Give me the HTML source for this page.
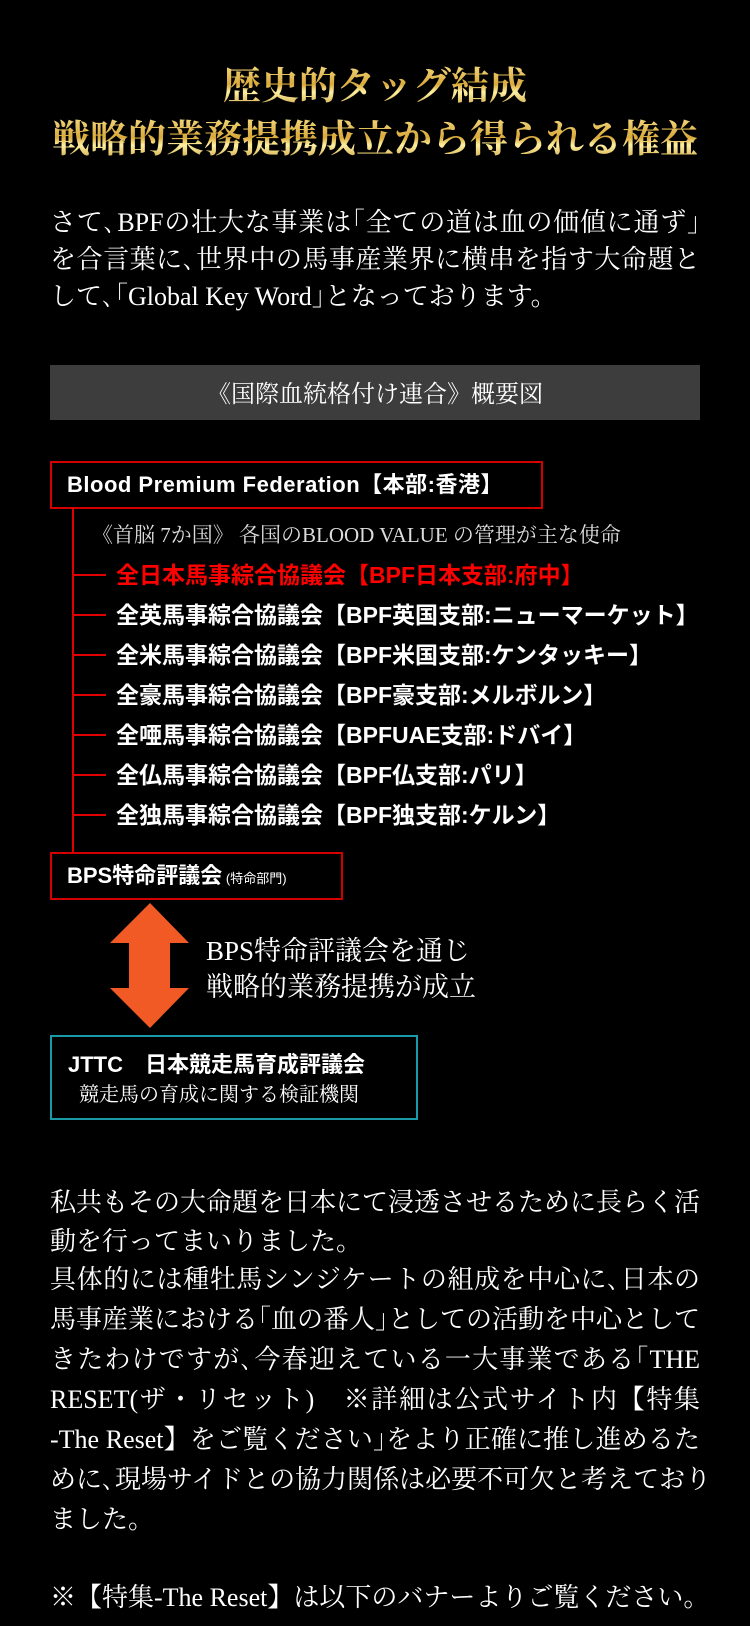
<!DOCTYPE html>
<html><head><meta charset="utf-8"><style>
html,body{margin:0;padding:0;background:#000;}
#p{position:relative;width:750px;height:1626px;overflow:hidden;background:#000;color:#fff;}
.l{position:absolute;white-space:nowrap;height:40px;line-height:40px;}
.s{font-family:"Liberation Serif","Noto Serif CJK JP","Noto Serif CJK SC",serif;}
.g{font-family:"Liberation Sans","Noto Sans CJK JP",sans-serif;font-weight:bold;}
.j{left:50px;width:650px;text-align:justify;text-align-last:justify;}
.t{font-size:38px;font-weight:bold;left:0;width:750px;text-align:center;height:52px;line-height:52px;
 background:linear-gradient(180deg,#f7e08a 0%,#d9a93a 45%,#fff0a0 60%,#b8861e 100%);-webkit-background-clip:text;background-clip:text;color:transparent;}
.p{font-size:26px;}
.r{font-size:23px;left:116px;}
.h{position:absolute;left:73px;width:33px;height:2px;background:#e00000;}
</style></head><body><div id="p">
<div class="l s t" style="top:61px">歴史的タッグ結成</div>
<div class="l s t" style="top:114px">戦略的業務提携成立から得られる権益</div>

<div class="l s p j" style="top:203px">さて､BPFの壮大な事業は｢全ての道は血の価値に通ず｣</div>
<div class="l s p j" style="top:240px">を合言葉に､世界中の馬事産業界に横串を指す大命題と</div>
<div class="l s p" style="top:277px;left:50px">して､｢Global Key Word｣となっております。</div>

<div style="position:absolute;left:50px;top:365px;width:650px;height:55px;background:#3d3d3d;"></div>
<div class="l s" style="top:375px;left:0;width:750px;text-align:center;font-size:24px;">《国際血統格付け連合》概要図</div>

<div style="position:absolute;left:50px;top:461px;width:489px;height:44px;border:2px solid #d40000;"></div>
<div class="l g" style="top:465px;left:67px;font-size:22px;letter-spacing:0.5px;">Blood Premium Federation【本部:香港】</div>
<div style="position:absolute;left:72px;top:507px;width:2px;height:345px;background:#e00000;"></div>
<div class="l s" style="top:515px;left:92px;font-size:21px;color:#ddd;">《首脳 7か国》 各国のBLOOD VALUE の管理が主な使命</div>

<div class="h" style="top:574px"></div><div class="l g r" style="top:555px;color:#f00;">全日本馬事綜合協議会【BPF日本支部:府中】</div>
<div class="h" style="top:614px"></div><div class="l g r" style="top:595px">全英馬事綜合協議会【BPF英国支部:ニューマーケット】</div>
<div class="h" style="top:654px"></div><div class="l g r" style="top:635px">全米馬事綜合協議会【BPF米国支部:ケンタッキー】</div>
<div class="h" style="top:694px"></div><div class="l g r" style="top:675px">全豪馬事綜合協議会【BPF豪支部:メルボルン】</div>
<div class="h" style="top:734px"></div><div class="l g r" style="top:715px">全唖馬事綜合協議会【BPFUAE支部:ドバイ】</div>
<div class="h" style="top:774px"></div><div class="l g r" style="top:755px">全仏馬事綜合協議会【BPF仏支部:パリ】</div>
<div class="h" style="top:814px"></div><div class="l g r" style="top:795px">全独馬事綜合協議会【BPF独支部:ケルン】</div>

<div style="position:absolute;left:50px;top:852px;width:289px;height:44px;border:2px solid #d40000;"></div>
<div class="l g" style="top:856px;left:67px;font-size:22px;">BPS特命評議会<span style="font-size:13px;font-weight:normal;"> (特命部門)</span></div>

<svg style="position:absolute;left:0;top:0" width="750" height="1626">
<polygon points="150,903 189,943 170,943 170,988 189,988 150,1028 110,988 129,988 129,943 110,943" fill="#f15a24"/>
</svg>
<div class="l s" style="top:931px;left:206px;font-size:27px;">BPS特命評議会を通じ</div>
<div class="l s" style="top:967px;left:206px;font-size:27px;">戦略的業務提携が成立</div>

<div style="position:absolute;left:50px;top:1035px;width:364px;height:81px;border:2px solid #1a9aa8;"></div>
<div class="l g" style="top:1045px;left:68px;font-size:22px;">JTTC　日本競走馬育成評議会</div>
<div class="l s" style="top:1075px;left:79px;font-size:20px;">競走馬の育成に関する検証機関</div>

<div class="l s p j" style="top:1183px">私共もその大命題を日本にて浸透させるために長らく活</div>
<div class="l s p" style="top:1222px;left:50px">動を行ってまいりました。</div>
<div class="l s p j" style="top:1260px">具体的には種牡馬シンジケートの組成を中心に､日本の</div>
<div class="l s p j" style="top:1300px">馬事産業における｢血の番人｣としての活動を中心として</div>
<div class="l s p j" style="top:1340px">きたわけですが､今春迎えている一大事業である｢THE</div>
<div class="l s p j" style="top:1380px">RESET(ザ・リセット)　※詳細は公式サイト内【特集</div>
<div class="l s p j" style="top:1420px">-The Reset】をご覧ください｣をより正確に推し進めるた</div>
<div class="l s p j" style="top:1460px">めに､現場サイドとの協力関係は必要不可欠と考えており</div>
<div class="l s p" style="top:1500px;left:50px">ました。</div>
<div class="l s p j" style="top:1578px;width:640px">※【特集-The Reset】は以下のバナーよりご覧ください。</div>
</div></body></html>
